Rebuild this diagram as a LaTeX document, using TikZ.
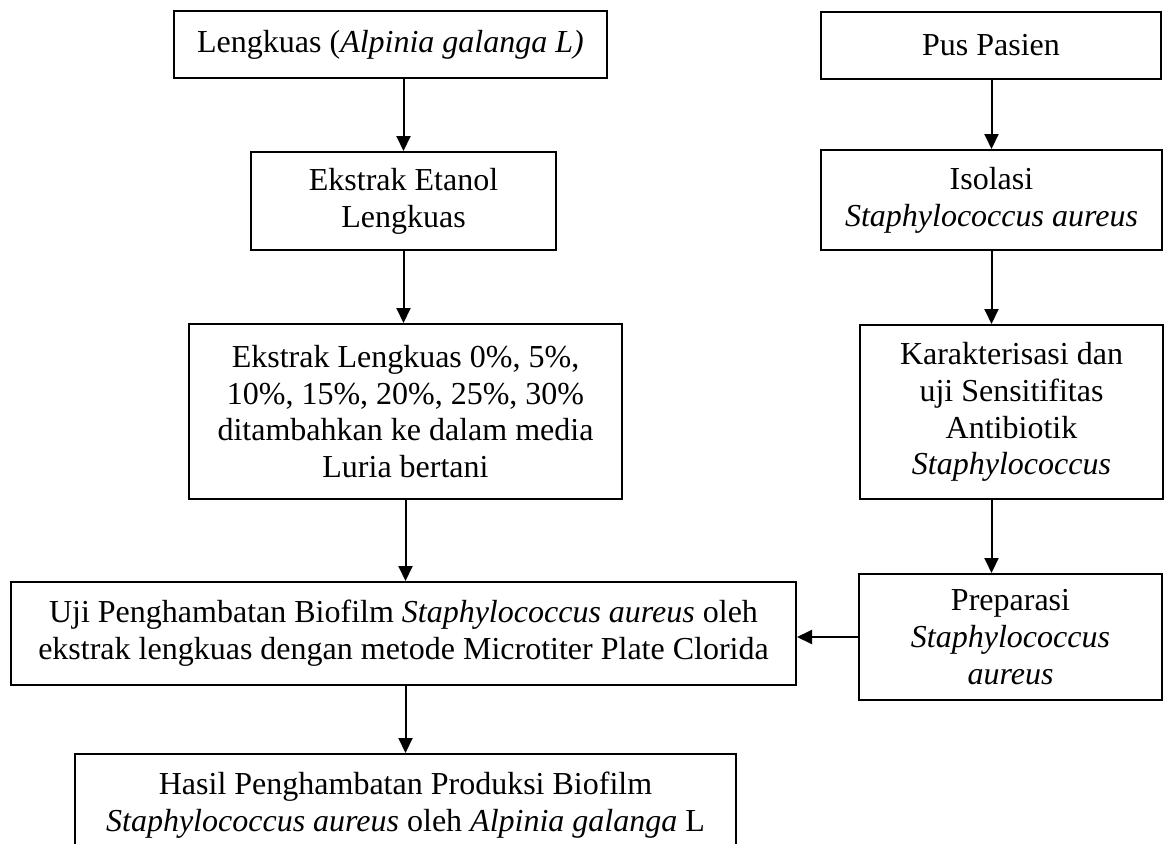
\documentclass[tikz,border=0pt]{standalone}
\usepackage{fontspec}
\setmainfont{Liberation Serif}
\usetikzlibrary{arrows.meta}
\begin{document}
\begin{tikzpicture}
        [
            x=1pt,
            y=-1pt,
            line width=2pt,
            >={Triangle[length=15pt, width=14pt]},
            box/.style={rectangle, draw, align=center, inner sep=4pt, font=\fontsize{32}{36.8}\selectfont}
        ]
        \useasboundingbox (0, 0) rectangle (1164, 843);
        \clip (0, 0) rectangle (1164, 843);
        \node[box, minimum width=433pt, minimum height=67pt] (lengkuas) at (390.5, 44.5) {Lengkuas (\textit{Alpinia galanga L)}};
        \node[box, minimum width=305pt, minimum height=98pt] (etanol) at (403.5, 201) {Ekstrak Etanol\\Lengkuas};
        \node[box, minimum width=433pt, minimum height=175pt] (persen) at (405.5, 411.5) {Ekstrak Lengkuas 0\%, 5\%,\\10\%, 15\%, 20\%, 25\%, 30\%\\ditambahkan ke dalam media\\Luria bertani};
        \node[box, minimum width=785pt, minimum height=103pt] (uji) at (403.5, 633.5) {Uji Penghambatan Biofilm \textit{Staphylococcus aureus} oleh\\ekstrak lengkuas dengan metode Microtiter Plate Clorida};
        \node[box, minimum width=661pt, minimum height=103pt] (hasil) at (405.5, 805.5) {Hasil Penghambatan Produksi Biofilm\\\textit{Staphylococcus aureus} oleh \textit{Alpinia galanga} L};
        \node[box, minimum width=340pt, minimum height=67pt] (pus) at (991, 45.5) {Pus Pasien};
        \node[box, minimum width=341pt, minimum height=100pt] (isolasi) at (991.5, 200) {Isolasi\\\textit{Staphylococcus aureus}};
        \node[box, minimum width=303pt, minimum height=174pt] (karakter) at (1011.5, 412) {Karakterisasi dan\\uji Sensitifitas\\Antibiotik\\\textit{Staphylococcus}};
        \node[box, minimum width=303pt, minimum height=126pt] (preparasi) at (1010.5, 637) {Preparasi\\\textit{Staphylococcus}\\\textit{aureus}};

        \draw[->] (lengkuas.south -| etanol) -- (etanol.north);
        \draw[->] (etanol.south) -- (etanol.south |- persen.north);
        \draw[->] (persen.south) -- (persen.south |- uji.north);
        \draw[->] (uji.south -| hasil) -- (hasil.north);
        \draw[->] (pus.south -| isolasi) -- (isolasi.north);
        \draw[->] (isolasi.south) -- (isolasi.south |- karakter.north);
        \draw[->] (karakter.south -| isolasi) -- (isolasi |- preparasi.north);
        \draw[->] (preparasi.west) -- (preparasi.west -| uji.east);

    \end{tikzpicture}
\end{document}
